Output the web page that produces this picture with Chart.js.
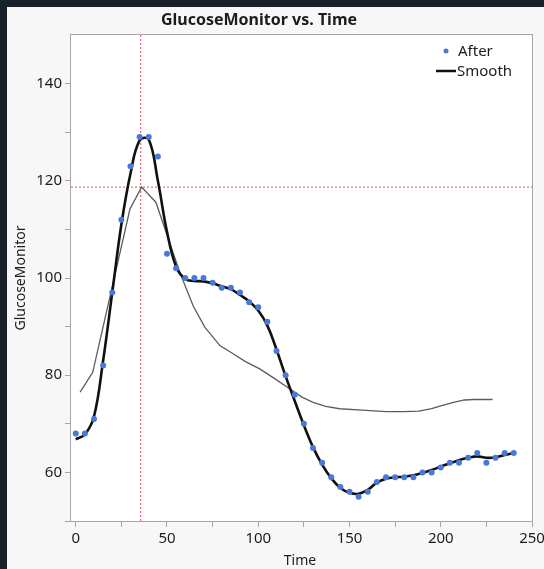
<!DOCTYPE html>
<html>
<head>
<meta charset="utf-8">
<script src="https://cdn.jsdelivr.net/npm/chart.js@4/dist/chart.umd.min.js"></script>
<style>
  html, body { margin: 0; padding: 0; background: #19222b; }
  #wrap { width: 544px; height: 569px; position: relative; }
</style>
</head>
<body>
<div id="wrap"><canvas id="chart"></canvas></div>
<script>
// data
const times = [0, 5, 10, 15, 20, 25, 30, 35, 40, 45, 50, 55, 60, 65, 70, 75, 80, 85, 90, 95,
  100, 105, 110, 115, 120, 125, 130, 135, 140, 145, 150, 155, 160, 165, 170, 175, 180, 185, 190, 195,
  200, 205, 210, 215, 220, 225, 230, 235, 240];
const afterValues = [68, 68, 71, 82, 97, 112, 123, 129, 129, 125, 105, 102, 100, 100, 100, 99, 98, 98, 97, 95,
  94, 91, 85, 80, 76, 70, 65, 62, 59, 57, 56, 55, 56, 58, 59, 59, 59, 59, 60, 60,
  61, 62, 62, 63, 64, 62, 63, 64, 64];
const smoothValues = [66.8, 67.8, 71.5, 83, 97, 111, 121.5, 128.3, 128.5, 120, 109.5, 102.3, 99.8, 99.4, 99.3, 98.9, 98.3, 97.7, 96.5, 95.2,
  93.3, 90.2, 85.3, 79.8, 74.7, 69.7, 65.2, 61.6, 58.8, 56.8, 55.8, 55.6, 56.4, 57.9, 58.7, 59, 59.1, 59.4, 59.9, 60.5,
  61.2, 61.9, 62.5, 63, 63.3, 63, 63.1, 63.6, 64];
const grayTimes = [2.4, 9.3, 29.7, 36.1, 43.9, 49.8, 57, 64.3, 70.7, 79, 86.2, 93, 100.8, 109, 117.2, 124, 130,
  137, 144.6, 157, 170, 180, 188, 195, 200, 207, 213, 218, 228.4];
const grayValues = [76.5, 80.6, 114.2, 118.7, 115.6, 109.1, 101.2, 94.3, 89.9, 86.1, 84.4, 82.8, 81.3, 79.3, 77.2, 75.5, 74.4,
  73.6, 73.1, 72.8, 72.5, 72.5, 72.6, 73.1, 73.7, 74.4, 74.9, 75.0, 75.0];
const crossTime = 35.6;
const crossValue = 118.7;
const xTicks = [0, 25, 50, 75, 100, 125, 150, 175, 200, 225, 250];
const yTicks = [50, 60, 70, 80, 90, 100, 110, 120, 130, 140];
const xMin = -2.6, xMax = 250, yMin = 50, yMax = 150;

const FONT = '"Noto Sans", "Open Sans", sans-serif';
const TEXT = '#1c1c1c';

const toPoints = (xs, ys) => xs.map((x, i) => ({ x: x, y: ys[i] }));

const frame = {
  id: 'frame',
  beforeDraw(chart) {
    const { ctx, chartArea: a } = chart;
    ctx.save();
    ctx.fillStyle = '#19222b';
    ctx.fillRect(0, 0, chart.width, chart.height);
    ctx.fillStyle = '#f7f7f7';
    ctx.fillRect(7, 7, chart.width - 7, chart.height - 7);
    ctx.fillStyle = '#ffffff';
    ctx.fillRect(a.left, a.top, a.right - a.left, a.bottom - a.top);
    ctx.restore();
  },
  afterDraw(chart) {
    const { ctx, chartArea: a } = chart;
    ctx.save();
    ctx.strokeStyle = '#a6a6a6';
    ctx.lineWidth = 1;
    ctx.strokeRect(a.left - 0.5, a.top - 0.5, a.right - a.left + 1, a.bottom - a.top + 1);

    // titles
    ctx.fillStyle = TEXT;
    ctx.textAlign = 'center';
    ctx.textBaseline = 'middle';
    ctx.font = 'bold 16px ' + FONT;
    ctx.fillText('GlucoseMonitor vs. Time', 259, 20);
    ctx.font = '14px ' + FONT;
    ctx.fillText('Time', 300, 561);
    ctx.translate(21, 278);
    ctx.rotate(-Math.PI / 2);
    ctx.fillText('GlucoseMonitor', 0, 0);
    ctx.restore();

    // legend
    ctx.save();
    ctx.font = '15px ' + FONT;
    ctx.textAlign = 'left';
    ctx.textBaseline = 'middle';
    ctx.fillStyle = '#4a78d8';
    ctx.beginPath();
    ctx.arc(446, 51, 2.5, 0, Math.PI * 2);
    ctx.fill();
    ctx.strokeStyle = '#111111';
    ctx.lineWidth = 2.5;
    ctx.beginPath();
    ctx.moveTo(436, 71);
    ctx.lineTo(456, 71);
    ctx.stroke();
    ctx.fillStyle = TEXT;
    ctx.fillText('After', 458, 52);
    ctx.fillText('Smooth', 457, 72);
    ctx.restore();
  }
};

new Chart(document.getElementById('chart'), {
  type: 'line',
  data: {
    datasets: [
      {
        label: 'After',
        data: toPoints(times, afterValues),
        showLine: false,
        pointRadius: 3,
        pointBackgroundColor: '#4a78d8',
        pointBorderWidth: 0
      },
      {
        label: 'Smooth',
        data: toPoints(times, smoothValues),
        borderColor: '#111111',
        borderWidth: 2.6,
        pointRadius: 0,
        tension: 0.4
      },
      {
        label: 'Fit',
        data: toPoints(grayTimes, grayValues),
        borderColor: '#5c5c5c',
        borderWidth: 1.3,
        pointRadius: 0,
        tension: 0
      },
      {
        label: 'crossV',
        data: [{ x: crossTime, y: yMin }, { x: crossTime, y: yMax }],
        borderColor: '#e8485a',
        borderWidth: 1,
        borderDash: [2, 2],
        pointRadius: 0
      },
      {
        label: 'crossH',
        data: [{ x: xMin, y: crossValue }, { x: xMax, y: crossValue }],
        borderColor: '#e8485a',
        borderWidth: 1,
        borderDash: [2, 2],
        pointRadius: 0
      }
    ]
  },
  options: {
    responsive: true,
    maintainAspectRatio: false,
    animation: false,
    layout: { padding: { left: 7, top: 35, right: 12, bottom: 0 } },
    plugins: {
      legend: { display: false },
      tooltip: { enabled: false }
    },
    scales: {
      x: {
        type: 'linear',
        min: xMin,
        max: xMax,
        afterBuildTicks: (s) => { s.ticks = xTicks.map(v => ({ value: v })); },
        afterFit: (s) => { s.height = 48; s.paddingLeft = 0; s.paddingRight = 0; },
        border: { display: false },
        grid: { drawOnChartArea: false, drawTicks: true, tickLength: 6, tickColor: '#a6a6a6' },
        ticks: {
          autoSkip: false,
          maxRotation: 0,
          padding: 3,
          color: TEXT,
          font: { family: FONT, size: 15 },
          callback: (v) => (v % 50 === 0 ? String(v) : '')
        }
      },
      y: {
        min: yMin,
        max: yMax,
        afterBuildTicks: (s) => { s.ticks = yTicks.map(v => ({ value: v })); },
        afterFit: (s) => { s.width = 64; s.paddingTop = 0; s.paddingBottom = 0; },
        border: { display: false },
        grid: { drawOnChartArea: false, drawTicks: true, tickLength: 6, tickColor: '#a6a6a6' },
        ticks: {
          autoSkip: false,
          padding: 3,
          color: TEXT,
          font: { family: FONT, size: 15 },
          callback: (v) => (v % 20 === 0 && v !== 50 ? String(v) : '')
        }
      }
    }
  },
  plugins: [frame]
});
</script>
</body>
</html>
